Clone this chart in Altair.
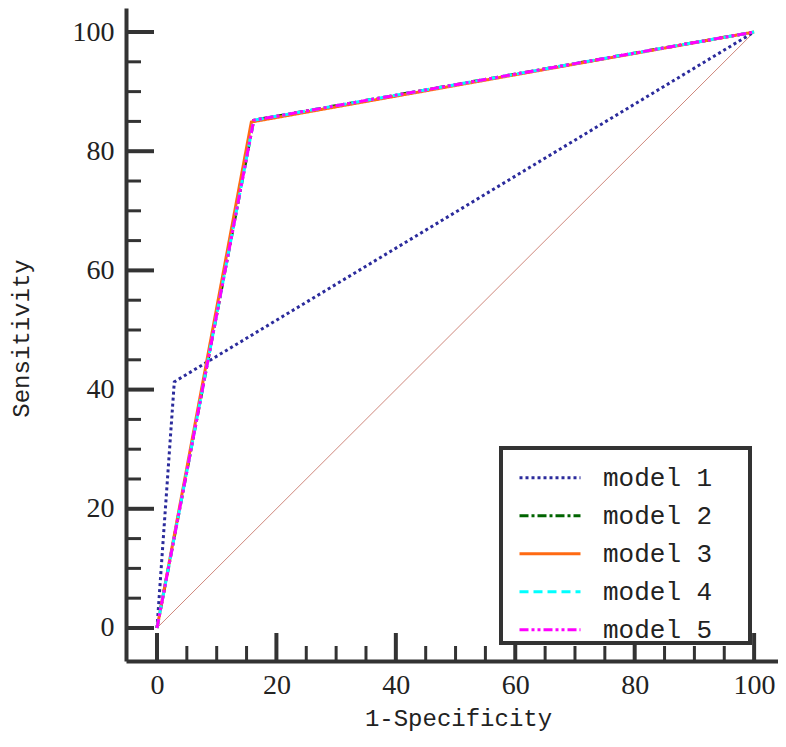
import altair as alt
import pandas as pd

# ---- data ----
models = ["model 1", "model 2", "model 3", "model 4", "model 5"]
fpr = {
    "model 1": [0, 2.9, 100],
    "model 2": [0, 16.2, 100],
    "model 3": [0, 15.8, 100],
    "model 4": [0, 16.2, 100],
    "model 5": [0, 16.2, 100],
}
tpr = {
    "model 1": [0, 41.3, 100],
    "model 2": [0, 85.2, 100],
    "model 3": [0, 84.9, 100],
    "model 4": [0, 85.2, 100],
    "model 5": [0, 85.2, 100],
}
colors = ["#2b2b9c", "#006400", "#ff6a13", "#00ffff", "#ff00ff"]
dashes = [[3, 3], [9, 3, 3, 3], [1, 0], [9, 5], [9, 3, 3, 3, 3, 3]]
diag_x = [0, 100]
diag_y = [0, 100]
major_ticks = [0, 20, 40, 60, 80, 100]
all_ticks = list(range(0, 101, 5))

XMIN, XMAX = -5.19, 104.0
YMIN, YMAX = -5.54, 104.03
W, H = 652, 653

rows = []
for m in models:
    for i, (a, b) in enumerate(zip(fpr[m], tpr[m])):
        rows.append({"model": m, "fpr": a, "tpr": b, "o": i})
df = pd.DataFrame(rows)
diag = pd.DataFrame({"fpr": diag_x, "tpr": diag_y})

px_x = W / (XMAX - XMIN)
px_y = H / (YMAX - YMIN)
tk = pd.DataFrame({
    "v": all_ticks,
    "major": [t in major_ticks for t in all_ticks],
})
tk["ylen"] = YMIN + tk["major"].map({True: 28 / px_y, False: 15 / px_y})
tk["xlen"] = XMIN + tk["major"].map({True: 28 / px_x, False: 15 / px_x})
tk["ybase"] = YMIN
tk["xbase"] = XMIN
tk["w"] = tk["major"].map({True: 4, False: 3})

xs = alt.Scale(domain=[XMIN, XMAX], nice=False, zero=False)
ys = alt.Scale(domain=[YMIN, YMAX], nice=False, zero=False)

AX = "#333333"
num_font = "Liberation Serif"
mono = "Liberation Mono"

xaxis = alt.Axis(
    title="1-Specificity", values=major_ticks, grid=False, ticks=False, tickSize=0,
    domainColor=AX, domainWidth=4, labelFont=num_font, labelFontSize=28,
    labelColor="#222", labelPadding=10, titleFont=mono, titleFontSize=24,
    titleFontWeight="normal", titleColor="#222", titleX=332, titleY=57,
    titleBaseline="middle",
)
yaxis = alt.Axis(
    title="Sensitivity", values=major_ticks, grid=False, ticks=False, tickSize=0,
    domainColor=AX, domainWidth=4, labelFont=num_font, labelFontSize=28,
    labelColor="#222", labelPadding=12, titleFont=mono, titleFontSize=24,
    titleFontWeight="normal", titleColor="#222", titleX=-105, titleY=330,
    titleAngle=-90, titleBaseline="middle",
)

leg = alt.Legend(
    title=None, orient="none", legendX=392, legendY=451,
    symbolType="stroke", symbolSize=3721, symbolStrokeWidth=3,
    clipHeight=37.5, rowPadding=0, labelOffset=21,
    labelFont=mono, labelFontSize=26, labelColor="#222",
    padding=0,
)

xticks = alt.Chart(tk).mark_rule(color=AX).encode(
    x=alt.X("v:Q", scale=xs, axis=xaxis),
    y=alt.Y("ybase:Q", scale=ys, axis=yaxis),
    y2="ylen:Q",
    strokeWidth=alt.StrokeWidth("w:Q", scale=None, legend=None),
)
yticks = alt.Chart(tk).mark_rule(color=AX).encode(
    y=alt.Y("v:Q", scale=ys, axis=yaxis),
    x=alt.X("xbase:Q", scale=xs, axis=xaxis),
    x2="xlen:Q",
    strokeWidth=alt.StrokeWidth("w:Q", scale=None, legend=None),
)

base_diag = alt.Chart(diag).mark_line(color="#c97a6e", strokeWidth=0.9).encode(
    x=alt.X("fpr:Q", scale=xs, axis=xaxis),
    y=alt.Y("tpr:Q", scale=ys, axis=yaxis),
)

lines = alt.Chart(df).mark_line(strokeWidth=3).encode(
    x=alt.X("fpr:Q", scale=xs, axis=xaxis),
    y=alt.Y("tpr:Q", scale=ys, axis=yaxis),
    order="o:Q",
    color=alt.Color("model:N", scale=alt.Scale(domain=models, range=colors), legend=leg),
    strokeDash=alt.StrokeDash("model:N", scale=alt.Scale(domain=models, range=dashes), legend=leg),
)

legend_box = alt.Chart(diag).mark_rect(
    fill="white", stroke=AX, strokeWidth=4
).encode(
    x=alt.value(375), x2=alt.value(624), y=alt.value(440), y2=alt.value(635)
)

chart = alt.layer(xticks, yticks, base_diag, lines, legend_box).properties(
    width=W, height=H,
    autosize=alt.AutoSizeParams(type="none"),
    padding={"left": 118, "top": 0, "right": 0, "bottom": 74},
).configure(background="white").configure_view(stroke=None)

chart.save("out.html", embed_options={"renderer": "svg", "actions": False})
